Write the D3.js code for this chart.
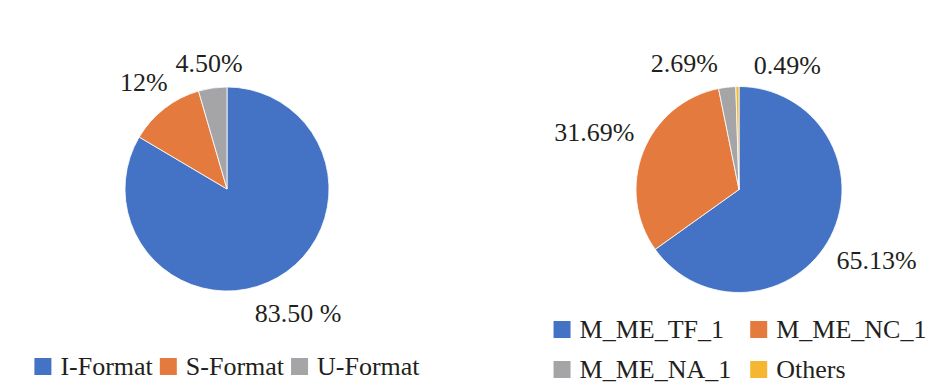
<!DOCTYPE html>
<html>
<head>
<meta charset="utf-8">
<script src="https://cdn.jsdelivr.net/npm/d3@7"></script>
</head>
<body style="margin:0; background:#fff">
<svg id="chart" width="952" height="386"></svg>
<script>
// left pie: instruction formats
const formatNames = ["I-Format", "S-Format", "U-Format"];
const formatValues = [83.5, 12, 4.5];
const formatLabels = ["83.50 %", "12%", "4.50%"];

// right pie: message types
const typeNames = ["M_ME_TF_1", "M_ME_NC_1", "M_ME_NA_1", "Others"];
const typeValues = [65.13, 31.69, 2.69, 0.49];
const typeLabels = ["65.13%", "31.69%", "2.69%", "0.49%"];

const colors = ["#4472c4", "#e57a3f", "#a5a5a8", "#f5b731"];

const fontFamily = "Tinos, 'Times New Roman', 'Liberation Serif', serif";
const fontSize = "26px";

const svg = d3.select("#chart");

function styleText(sel) {
  return sel
    .attr("font-family", fontFamily)
    .attr("font-size", 26)
    .style("font-family", fontFamily)
    .style("font-size", fontSize)
    .style("fill", "#231f20");
}

function drawPie(cfg) {
  const g = svg.append("g").attr("transform", `translate(${cfg.cx},${cfg.cy})`);
  const pie = d3.pie().sort(null).value(d => d)(cfg.values);
  const arc = d3.arc().innerRadius(0).outerRadius(cfg.r);

  g.selectAll("path.slice")
    .data(pie)
    .join("path")
    .attr("class", "slice")
    .attr("d", arc)
    .attr("fill", (d, i) => colors[i])
    .attr("stroke", "#fff")
    .attr("stroke-width", 0.8);

  // labels sit just outside the pie, box pushed out along the mid angle
  const pad = 12, halfH = 9;
  const labels = svg.append("g").selectAll("text")
    .data(pie)
    .join("text")
    .attr("text-anchor", "middle")
    .call(styleText)
    .text((d, i) => cfg.labels[i]);

  const boxes = [];
  labels.each(function(d) {
    const w = this.getComputedTextLength();
    const mid = (d.startAngle + d.endAngle) / 2;
    const ux = Math.sin(mid), uy = -Math.cos(mid);
    const R = cfg.r + pad + Math.abs(ux) * w / 2 + Math.abs(uy) * halfH;
    boxes.push({ node: this, d: d, w: w, x: ux * R, y: uy * R });
  });

  // crude overlap fix for neighbouring small slices
  const gap = 36;
  for (let i = 1; i < boxes.length; i++) {
    const a = boxes[i - 1], b = boxes[i];
    const overlapX = (a.w + b.w) / 2 - Math.abs(a.x - b.x);
    const overlapY = 2 * halfH + 4 - Math.abs(a.y - b.y);
    if (overlapX > 0 && overlapY > 0) {
      const bx = cfg.r * Math.sin(a.d.endAngle);
      a.x = bx - gap / 2 - a.w / 2;
      b.x = bx + gap / 2 + b.w / 2;
    }
  }

  boxes.forEach(b => {
    d3.select(b.node).attr("x", cfg.cx + b.x).attr("y", cfg.cy + b.y + halfH);
  });
}

function drawLegend(cfg) {
  const sq = 17, textGap = 9;
  const rects = svg.append("g").selectAll("rect")
    .data(cfg.names)
    .join("rect")
    .attr("width", sq)
    .attr("height", sq)
    .attr("fill", (d, i) => colors[i]);

  const texts = svg.append("g").selectAll("text")
    .data(cfg.names)
    .join("text")
    .call(styleText)
    .text(d => d);

  const widths = [];
  texts.each(function() { widths.push(this.getComputedTextLength()); });

  const pos = [];
  if (cfg.cols) {
    // fixed grid
    const colW = [];
    for (let c = 0; c < cfg.cols; c++) {
      colW.push(d3.max(widths.filter((w, i) => i % cfg.cols === c)) + sq + textGap);
    }
    const total = d3.sum(colW) + cfg.colGap * (cfg.cols - 1);
    const x0 = cfg.cx - total / 2;
    cfg.names.forEach((n, i) => {
      const c = i % cfg.cols, row = Math.floor(i / cfg.cols);
      pos.push([x0 + d3.sum(colW.slice(0, c)) + cfg.colGap * c, cfg.top + row * cfg.rowH]);
    });
  } else {
    const itemGap = 7;
    const total = d3.sum(widths) + widths.length * (sq + textGap) + itemGap * (widths.length - 1);
    let x = cfg.cx - total / 2;
    cfg.names.forEach((n, i) => {
      pos.push([x, cfg.top]);
      x += sq + textGap + widths[i] + itemGap;
    });
  }

  rects.attr("x", (d, i) => pos[i][0]).attr("y", (d, i) => pos[i][1]);
  texts.attr("x", (d, i) => pos[i][0] + sq + textGap).attr("y", (d, i) => pos[i][1] + sq);
}

drawPie({ cx: 227, cy: 189, r: 102, values: formatValues, labels: formatLabels });
drawPie({ cx: 739, cy: 189.5, r: 103, values: typeValues, labels: typeLabels });

drawLegend({ cx: 227, top: 358, names: formatNames });
drawLegend({ cx: 740, top: 321, names: typeNames, cols: 2, colGap: 19, rowH: 40 });
</script>
</body>
</html>
